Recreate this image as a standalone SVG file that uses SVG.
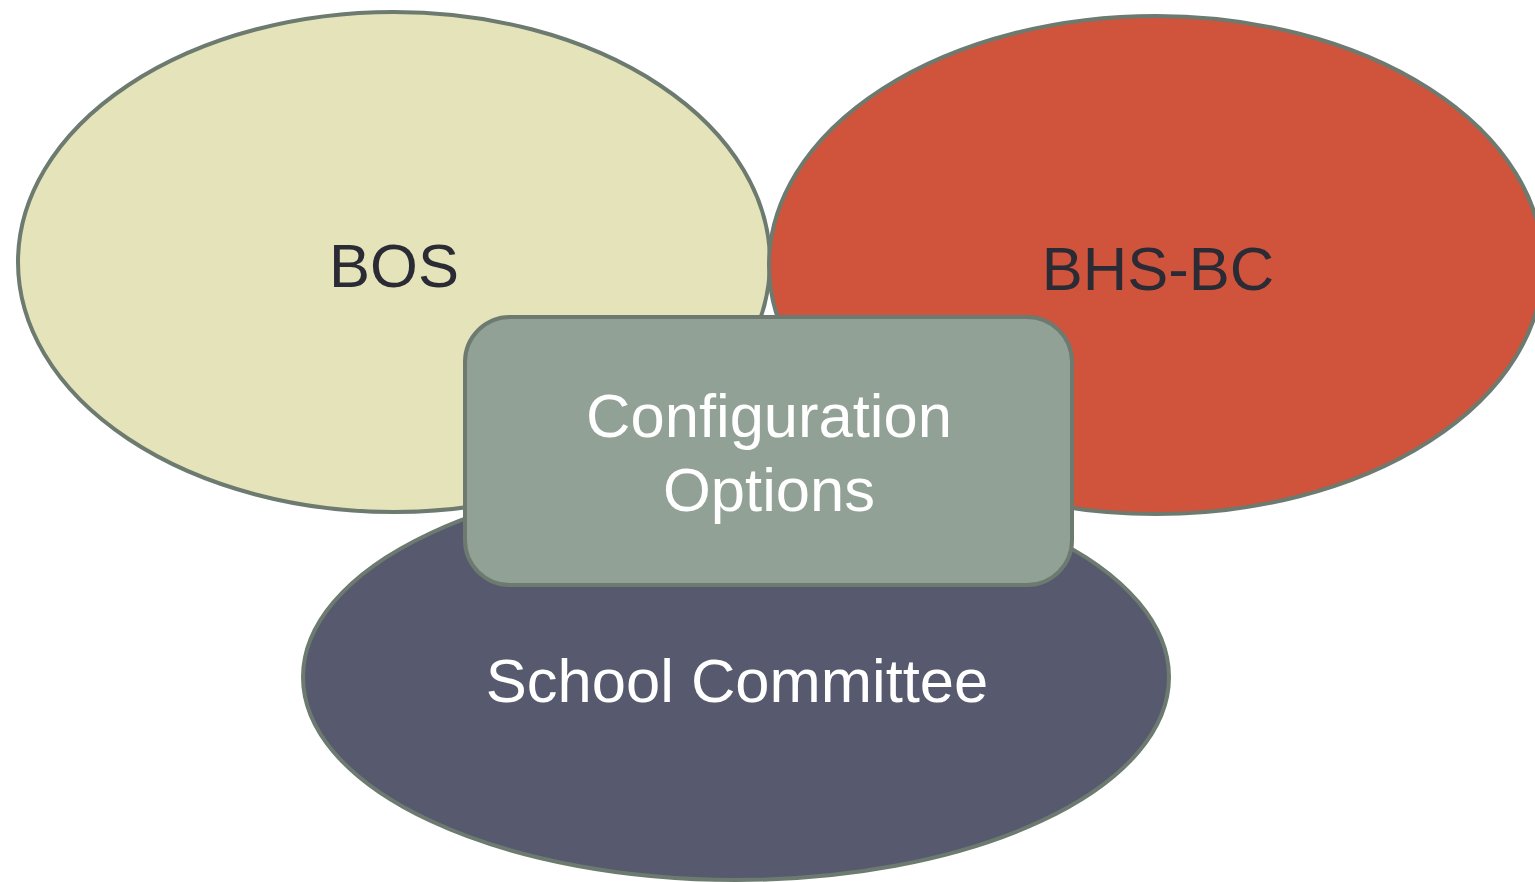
<svg xmlns="http://www.w3.org/2000/svg" width="1535" height="882" viewBox="0 0 1535 882">
<style>
.sh{stroke:#6c7a70;stroke-width:4}
.t{font-family:"Liberation Sans",Arial,sans-serif;font-size:61.5px;text-anchor:middle}
.dk{fill:#2b2b36}
.wt{fill:#ffffff}
</style>
<rect width="1535" height="882" fill="#ffffff"/>
<g id="bos">
<ellipse class="sh" cx="394" cy="262" rx="376" ry="250" fill="#e5e3b9"/>
<text class="t dk" x="394" y="287">BOS</text>
</g>
<g id="bhs-bc">
<ellipse class="sh" cx="1156" cy="265" rx="387" ry="249" fill="#d0543c"/>
<text class="t dk" x="1158" y="290">BHS-BC</text>
</g>
<g id="school-committee">
<ellipse class="sh" cx="736" cy="677" rx="433" ry="203" fill="#575a6e"/>
<text class="t wt" x="737" y="702">School Committee</text>
</g>
<g id="configuration-options">
<rect class="sh" x="465" y="317" width="607" height="268" rx="45" fill="#92a195"/>
<text class="t wt" x="769" y="437">Configuration</text>
<text class="t wt" x="769" y="511">Options</text>
</g>
<g id="connectors"></g>
</svg>
